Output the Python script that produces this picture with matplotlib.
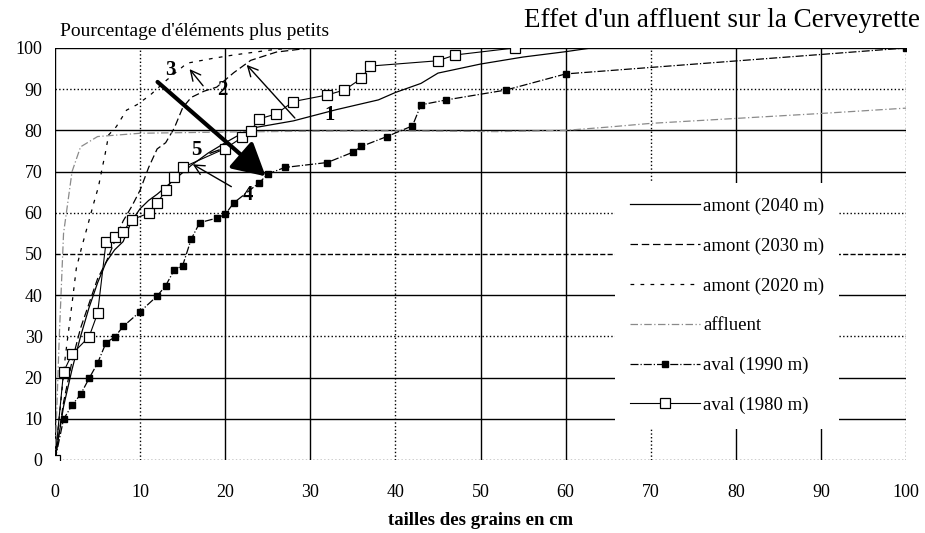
import numpy as np
import matplotlib
matplotlib.use('Agg')
import matplotlib.pyplot as plt

plt.rcParams['font.family'] = ['Liberation Serif', 'DejaVu Serif']

# courbes granulometriques (taille en cm, % plus petits)
amont2040_x = [0, 1, 2, 3, 4, 5, 6, 7, 8, 9, 10, 11, 12, 14, 16, 18, 20, 23, 28, 33, 38, 40, 43, 45, 50, 55, 60, 63]
amont2040_y = [0, 13, 22, 30, 37, 43, 48, 51, 53, 58, 61, 63, 64.5, 68, 71.5, 74.5, 77, 80.5, 82.3, 85, 87.4, 89.2, 91.4, 93.9, 96.1, 97.8, 99.1, 100]

amont2030_x = [0, 1, 2, 3, 4, 5, 6, 7, 8, 9, 10, 11, 12, 13, 14, 15, 16, 17.5, 19, 21, 23, 26, 30]
amont2030_y = [0, 14, 24, 32, 38, 44, 48, 53, 58, 61.5, 65.5, 71, 75.5, 77, 80.5, 85.5, 88, 89.5, 90.5, 94, 97, 99, 100]

amont2020_x = [0, 1.2, 2, 2.5, 3.1, 3.9, 4.5, 5.1, 5.5, 5.9, 6.3, 7.2, 8.4, 9.6, 11.2, 13, 15.5, 18.6, 21, 26, 30]
amont2020_y = [0, 25, 38, 46.5, 51.4, 57.4, 62, 66.3, 70.4, 74.4, 78.9, 80.9, 84.9, 86.2, 88.6, 92, 96.3, 97.5, 98.3, 99.7, 100]

affluent_x = [0, 0.5, 1, 2, 3, 5, 10, 20, 30, 40, 52, 60, 65, 70, 80, 90, 100]
affluent_y = [0, 30, 55, 70, 76, 78.5, 79.3, 79.6, 79.8, 79.9, 79.7, 80, 80.8, 81.7, 82.9, 84.1, 85.4]

aval1990_x = [0, 1, 2, 3, 4, 5, 6, 7, 8, 10, 12, 13, 14, 15, 16, 17, 19, 20, 21, 24, 25, 27, 32, 35, 36, 39, 42, 43, 46, 53, 60, 100]
aval1990_y = [0, 9.9, 13.3, 15.9, 19.8, 23.5, 28.5, 29.8, 32.4, 36, 39.8, 42.3, 46.1, 47.2, 53.6, 57.6, 58.7, 59.6, 62.4, 67.3,
              69.4, 71, 72.2, 74.7, 76.1, 78.5, 81.1, 86.2, 87.4, 89.8, 93.7, 100]

aval1980_x = [0, 1, 2, 4, 5, 6, 7, 8, 9, 11, 12, 13, 14, 15, 20, 22, 23, 24, 26, 28, 32, 34, 36, 37, 45, 47, 54]
aval1980_y = [0, 21.4, 25.7, 29.9, 35.6, 53, 54.2, 55.4, 58.3, 59.9, 62.3, 65.5, 68.8, 71, 75.6, 78.3, 79.9, 82.8, 84, 87,
              88.6, 89.8, 92.6, 95.6, 96.9, 98.3, 100]

xticks = [0, 10, 20, 30, 40, 50, 60, 70, 80, 90, 100]
yticks = [0, 10, 20, 30, 40, 50, 60, 70, 80, 90, 100]

fig = plt.figure(figsize=(9.25, 5.33), dpi=100)
ax = fig.add_axes([0.0595, 0.137, 0.92, 0.773])
ax.set_xlim(0, 100)
ax.set_ylim(0, 100)
for s in ax.spines.values():
    s.set_visible(False)

# quadrillage : traits pleins et pointilles comme sur le scan
vstyle = ['-', ':', '-', '-', ':', '-', '-', ':', '-', '-', ':']
hstyle = [':', '-', '-', ':', '-', '--', ':', '-', '-', ':', '-']
for v, st in zip(xticks, vstyle):
    ax.axvline(v, color='black', ls=st, lw=1.0, zorder=1)
for v, st in zip(yticks, hstyle):
    ax.axhline(v, color='black', ls=st, lw=1.0, zorder=1)

ax.plot(amont2040_x, amont2040_y, '-', color='black', lw=0.9, label='amont (2040 m)', zorder=3)
ax.plot(amont2030_x, amont2030_y, color='black', lw=0.9, dashes=(6, 3), label='amont (2030 m)', zorder=3)
ax.plot(amont2020_x, amont2020_y, color='black', lw=0.9, dashes=(3, 5), label='amont (2020 m)', zorder=3)
ax.plot(affluent_x, affluent_y, color='#8a8a8a', lw=0.9, dashes=(6, 2, 1, 2), label='affluent', zorder=3)
ax.plot(aval1990_x, aval1990_y, '-.', color='black', lw=0.9, marker='s', ms=5, mfc='black', mec='black',
        label='aval (1990 m)', zorder=4)
ax.plot(aval1980_x, aval1980_y, '-', color='black', lw=0.8, marker='s', ms=7.5, mfc='white', mec='black',
        mew=0.9, label='aval (1980 m)', zorder=5)

# annotations 1 a 5
bold = dict(fontsize=15, fontweight='bold', ha='center', va='center', zorder=6)
ax.text(32.3, 83.7, '1', **bold)
ax.text(19.6, 89.8, '2', **bold)
ax.text(13.6, 94.7, '3', **bold)
ax.text(22.7, 64.3, '4', **bold)
ax.text(16.6, 75.2, '5', **bold)
thin = dict(arrowstyle='->', color='black', lw=1.0, mutation_scale=18)
ax.annotate('', xy=(22.3, 96.4), xytext=(28.4, 82.5), arrowprops=thin, zorder=6)
ax.annotate('', xy=(15.6, 95.4), xytext=(17.6, 90.3), arrowprops=thin, zorder=6)
ax.annotate('', xy=(15.9, 72.1), xytext=(21.0, 66.0), arrowprops=thin, zorder=6)
ax.annotate('', xy=(19.6, 75.5), xytext=(17.9, 74.2), arrowprops=dict(arrowstyle='-', color='black', lw=1.0), zorder=6)
ax.annotate('', xy=(25.0, 68.4), xytext=(11.8, 92.2),
            arrowprops=dict(arrowstyle='-|>,head_length=1.1,head_width=0.6', color='black', lw=3.0, mutation_scale=18),
            zorder=6)

ax.set_xticks(xticks)
ax.set_yticks(yticks)
ax.tick_params(length=0, labelsize=13)
ax.tick_params(axis='x', pad=17)
ax.tick_params(axis='y', pad=9)
ax.set_xlabel('tailles des grains en cm', fontsize=13.5, fontweight='bold', labelpad=8)

fig.text(0.065, 0.94, "Pourcentage d'éléments plus petits", fontsize=14, ha='left', va='center')
fig.text(0.995, 0.962, "Effet d'un affluent sur la Cerveyrette", fontsize=19.5, ha='right', va='center')

leg = ax.legend(loc='center', bbox_to_anchor=(0.79, 0.374), frameon=True, fontsize=13.5,
                handlelength=3.7, labelspacing=1.2, borderpad=0.8, handletextpad=0.2, borderaxespad=0)
leg.get_frame().set_facecolor('white')
leg.get_frame().set_edgecolor('none')
leg.get_frame().set_alpha(1)
leg.set_zorder(7)

fig.savefig('out.png', dpi=100, facecolor='white')
